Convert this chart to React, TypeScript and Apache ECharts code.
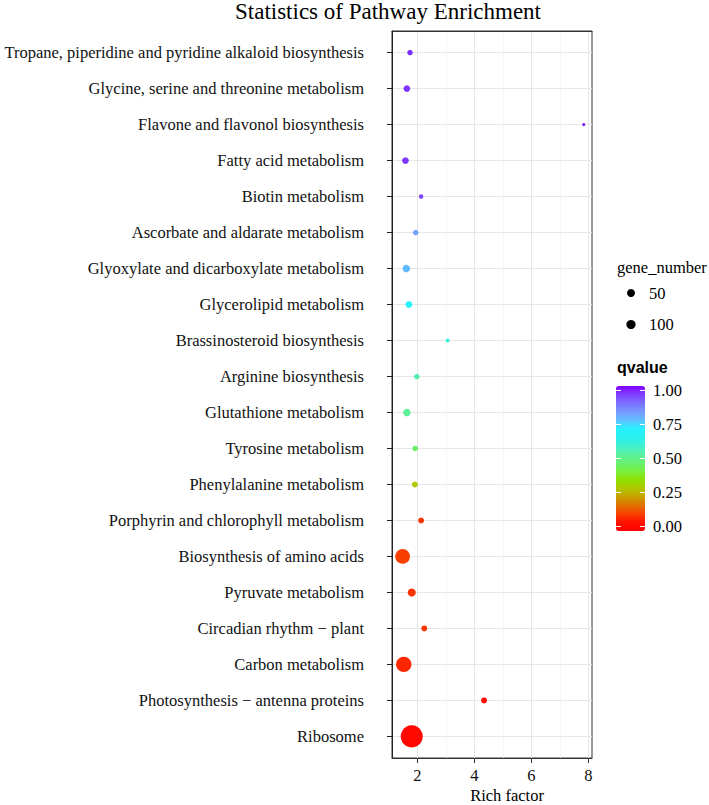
import React, { useEffect, useRef } from "react";
import * as echarts from "echarts";

const pathways = [
  "Tropane, piperidine and pyridine alkaloid biosynthesis",
  "Glycine, serine and threonine metabolism",
  "Flavone and flavonol biosynthesis",
  "Fatty acid metabolism",
  "Biotin metabolism",
  "Ascorbate and aldarate metabolism",
  "Glyoxylate and dicarboxylate metabolism",
  "Glycerolipid metabolism",
  "Brassinosteroid biosynthesis",
  "Arginine biosynthesis",
  "Glutathione metabolism",
  "Tyrosine metabolism",
  "Phenylalanine metabolism",
  "Porphyrin and chlorophyll metabolism",
  "Biosynthesis of amino acids",
  "Pyruvate metabolism",
  "Circadian rhythm \u2212 plant",
  "Carbon metabolism",
  "Photosynthesis \u2212 antenna proteins",
  "Ribosome",
];
const richFactor = [1.74, 1.63, 7.84, 1.58, 2.13, 1.94, 1.61, 1.7, 3.06, 1.98, 1.63, 1.92, 1.91, 2.13, 1.48, 1.8, 2.24, 1.52, 4.34, 1.8];
const qValue = [0.99, 0.98, 1.0, 0.98, 0.96, 0.83, 0.79, 0.7, 0.61, 0.55, 0.52, 0.46, 0.28, 0.08, 0.09, 0.08, 0.08, 0.06, 0.01, 0.0];
const geneNumber = [6, 9, 2, 9, 4, 6, 11, 9, 3, 6, 11, 6, 7, 7, 43, 13, 7, 47, 7, 97];
const xTicks = [2, 4, 6, 8];
const xMinorTicks = [3, 5, 7];
const sizeBreaks = [50, 100];
const qTicks = [0, 0.25, 0.5, 0.75, 1];

const qColors = [
  "#ff0000", "#ff1000", "#f84000", "#e07000", "#c8a000", "#b0c800",
  "#90e000", "#78f040", "#68f070", "#58f0a0", "#40f0d0", "#28f0f0",
  "#28f0ff", "#60c0ff", "#7898ff", "#7a70ff", "#8040ff", "#8000ff",
];

const SERIF = "Liberation Serif";

export default function App() {
  const ref = useRef<HTMLDivElement>(null);
  useEffect(() => {
    document.body.style.margin = "0";
    const chart = echarts.init(ref.current!, null, { renderer: "svg" });
    const qMin = -0.033;
    const qMax = 1.033;
    const barTop = 386;
    const barH = 145;
    const barLeft = 616;
    const barW = 29;
    const qToY = (v: number) => barTop + (barH * (qMax - v)) / (qMax - qMin);
    const cats = pathways.map((_, i) => i);
    const data = pathways.map((_, i) => [richFactor[i], i, qValue[i], geneNumber[i]]);
    const legendY = [293, 324.5];
    const legendR = [4, 4.6];

    const graphic: any[] = [
      { type: "text", x: 617, y: 267, style: { text: "gene_number", font: `16.5px "${SERIF}"`, fill: "#000", verticalAlign: "middle" } },
      { type: "text", x: 617, y: 367, style: { text: "qvalue", font: `bold 16px "Liberation Sans"`, fill: "#000", verticalAlign: "middle" } },
      {
        type: "text", x: 507, y: 795,
        style: { text: "Rich factor", font: `16.5px "${SERIF}"`, fill: "#000", align: "center", verticalAlign: "middle" },
      },
    ];
    sizeBreaks.forEach((b, i) => {
      graphic.push({ type: "circle", shape: { cx: 631, cy: legendY[i], r: legendR[i] }, style: { fill: "#000" } });
      graphic.push({ type: "text", x: 649, y: legendY[i], style: { text: String(b), font: `16.5px "${SERIF}"`, fill: "#000", verticalAlign: "middle" } });
    });
    qTicks.forEach((t) => {
      const y = qToY(t);
      graphic.push({ type: "text", x: 653, y, style: { text: t.toFixed(2), font: `16.5px "${SERIF}"`, fill: "#000", verticalAlign: "middle" } });
      graphic.push({ type: "line", z: 100, shape: { x1: barLeft, y1: y, x2: barLeft + 5, y2: y }, style: { stroke: "#fff", lineWidth: 1 } });
      graphic.push({ type: "line", z: 100, shape: { x1: barLeft + barW - 5, y1: y, x2: barLeft + barW, y2: y }, style: { stroke: "#fff", lineWidth: 1 } });
    });

    chart.setOption({
      animation: false,
      title: {
        text: "Statistics of Pathway Enrichment",
        left: 235,
        top: 0,
        padding: 0,
        textStyle: { fontFamily: SERIF, fontSize: 23, fontWeight: "normal", color: "#000" },
      },
      grid: {
        left: 392, right: 117, top: 31, bottom: 47,
        show: true, borderColor: "#333", borderWidth: 1, backgroundColor: "#fff",
        outerBoundsMode: "none",
        containLabel: false,
      },
      xAxis: [
        {
          type: "value",
          min: 1.107,
          max: 8.13,
          axisLine: { show: true, onZero: false, lineStyle: { color: "#333" } },
          axisTick: { show: true, length: 5, customValues: xTicks, lineStyle: { color: "#333" } },
          axisLabel: { customValues: xTicks, fontFamily: SERIF, fontSize: 16.5, color: "#111", margin: 9 },
          splitLine: { show: true, lineStyle: { color: "#e6e6e6", width: 1 } },
        },
        {
          type: "value",
          min: 1.107,
          max: 8.13,
          position: "top",
          axisLine: { show: true, onZero: false, lineStyle: { color: "#333" } },
          axisTick: { show: false, customValues: xMinorTicks },
          axisLabel: { show: false, customValues: xMinorTicks },
          splitLine: { show: true, lineStyle: { color: "#f2f2f2", width: 0.8 } },
        },
      ],
      yAxis: {
        type: "value",
        min: -0.6,
        max: 19.6,
        inverse: true,
        axisLine: { show: true, onZero: false, lineStyle: { color: "#222" } },
        axisTick: { show: true, length: 5, customValues: cats, lineStyle: { color: "#222" } },
        axisLabel: {
          customValues: cats,
          formatter: (v: number) => pathways[Math.round(v)] ?? "",
          fontFamily: SERIF,
          fontSize: 16.5,
          color: "#111",
          margin: 28,
        },
        splitLine: { show: true, lineStyle: { color: "#e6e6e6", width: 1 } },
      },
      visualMap: {
        type: "continuous",
        min: qMin,
        max: qMax,
        dimension: 2,
        seriesIndex: 0,
        calculable: false,
        hoverLink: false,
        left: barLeft,
        top: barTop,
        itemWidth: barW,
        itemHeight: barH,
        padding: 0,
        inRange: { color: qColors },
      },
      graphic,
      series: [
        {
          type: "scatter",
          xAxisIndex: 0,
          data,
          symbolSize: (val: number[]) => 2 * 1.12 * Math.sqrt(val[3]),
          itemStyle: { opacity: 1 },
        },
      ],
    });
    return () => chart.dispose();
  }, []);
  return <div ref={ref} style={{ width: 709, height: 805 }} />;
}
